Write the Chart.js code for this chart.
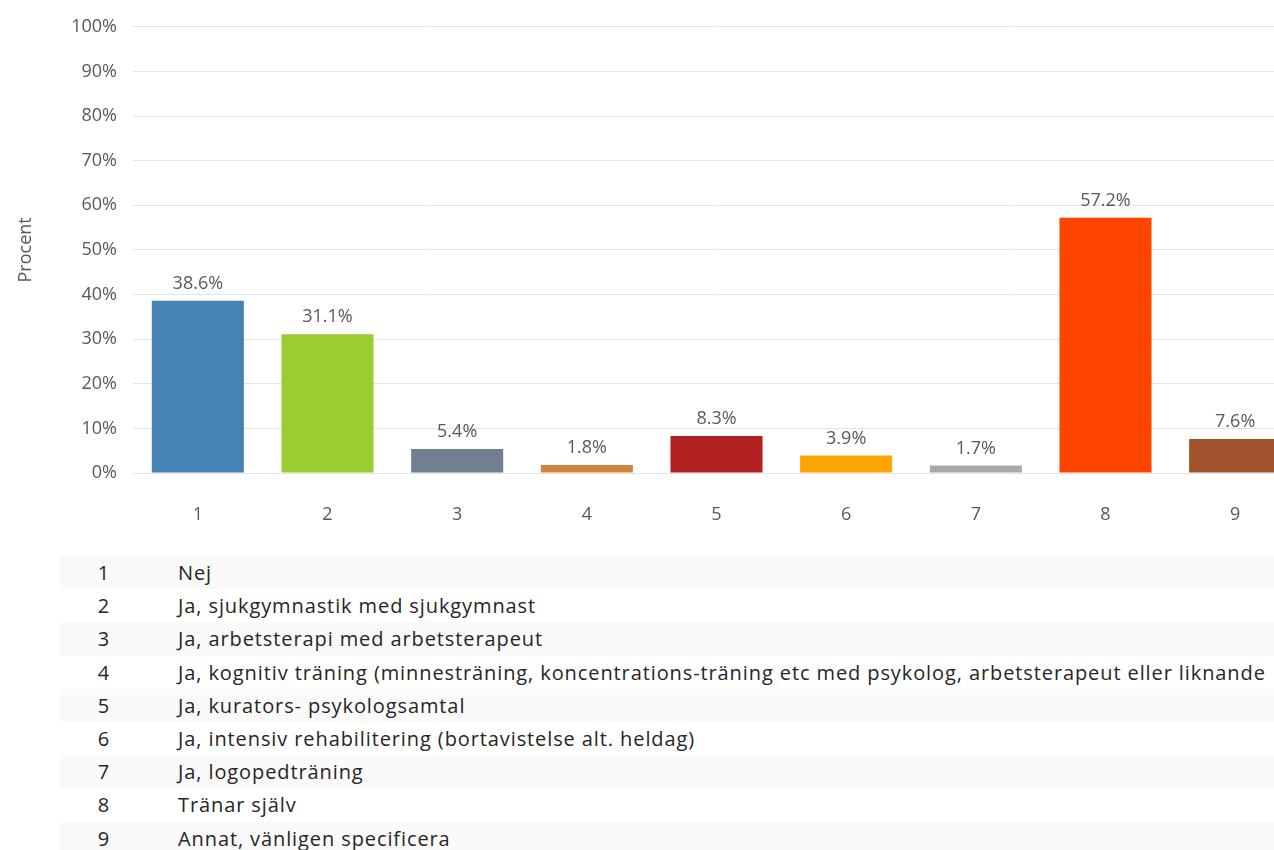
<!DOCTYPE html>
<html>
<head>
<meta charset="utf-8">
<script src="https://cdn.jsdelivr.net/npm/chart.js@4"></script>
<style>
  html, body { margin: 0; padding: 0; background: #fff; overflow: hidden; }
  body { width: 1274px; height: 850px; position: relative; font-family: "Open Sans", sans-serif; }
  #wrap { position: absolute; left: 0; top: 0; width: 1300px; height: 540px; }
  #legendTbl { position: absolute; left: 60px; top: 556px; width: 1214px; border-collapse: collapse; font-size: 20px; letter-spacing: 0.9px; color: #262626; }
  #legendTbl td { height: 33.2px; padding: 0; white-space: nowrap; }
  #legendTbl tr:nth-child(odd) td { background: #fafafa; }
  #legendTbl td.num { width: 88px; text-align: center; }
  #legendTbl td.txt { padding-left: 30px; }
</style>
</head>
<body>
<div id="wrap"><canvas id="c"></canvas></div>
<table id="legendTbl"></table>
<script>
// ── data ──
var categories = ["1", "2", "3", "4", "5", "6", "7", "8", "9"];
var values = [38.6, 31.1, 5.4, 1.8, 8.3, 3.9, 1.7, 57.2, 7.6];
var barColors = ["#4682B4", "#9ACD32", "#708090", "#CD853F", "#B22222", "#FFA500", "#A9A9A9", "#FF4500", "#A0522D"];
var answerLabels = [
  "Nej",
  "Ja, sjukgymnastik med sjukgymnast",
  "Ja, arbetsterapi med arbetsterapeut",
  "Ja, kognitiv träning (minnesträning, koncentrations-träning etc med psykolog, arbetsterapeut eller liknande",
  "Ja, kurators- psykologsamtal",
  "Ja, intensiv rehabilitering (bortavistelse alt. heldag)",
  "Ja, logopedträning",
  "Tränar själv",
  "Annat, vänligen specificera"
];

// ── etiketter ovanför staplarna ──
var valueLabels = {
  id: "valueLabels",
  afterDatasetsDraw: function(chart) {
    var ctx = chart.ctx;
    var meta = chart.getDatasetMeta(0);
    ctx.save();
    ctx.font = "18px 'Open Sans', sans-serif";
    ctx.fillStyle = "#595959";
    ctx.textAlign = "center";
    ctx.textBaseline = "middle";
    meta.data.forEach(function(bar, i) {
      ctx.fillText(values[i].toFixed(1) + "%", bar.x, bar.y - 17);
    });
    ctx.restore();
  }
};

var tickFont = { size: 18, family: "'Open Sans', sans-serif" };

new Chart(document.getElementById("c"), {
  type: "bar",
  data: {
    labels: categories,
    datasets: [{
      data: values,
      backgroundColor: barColors,
      borderWidth: 0,
      barPercentage: 0.71,
      categoryPercentage: 1
    }]
  },
  options: {
    responsive: true,
    maintainAspectRatio: false,
    animation: false,
    layout: { padding: { top: 26, right: 0, bottom: 0, left: 0 } },
    plugins: { legend: { display: false }, tooltip: { enabled: false } },
    scales: {
      x: {
        grid: { display: false },
        border: { display: false },
        ticks: { color: "#595959", font: tickFont, padding: 23 },
        afterFit: function(s) { s.height = 67; }
      },
      y: {
        min: 0, max: 100,
        ticks: {
          stepSize: 10, color: "#595959", font: tickFont, padding: 16,
          callback: function(v) { return v + "%"; }
        },
        grid: { color: "#e4e4e4", drawTicks: false },
        border: { display: false },
        title: { display: true, text: "Procent", color: "#595959", font: tickFont, padding: { top: 15, bottom: 0 } },
        afterFit: function(s) { s.width = 133; }
      }
    }
  },
  plugins: [valueLabels]
});

// ── förklaringstabell ──
document.getElementById("legendTbl").innerHTML = categories.map(function(c, i) {
  return '<tr><td class="num">' + c + '</td><td class="txt">' + answerLabels[i] + '</td></tr>';
}).join("");
</script>
</body>
</html>
